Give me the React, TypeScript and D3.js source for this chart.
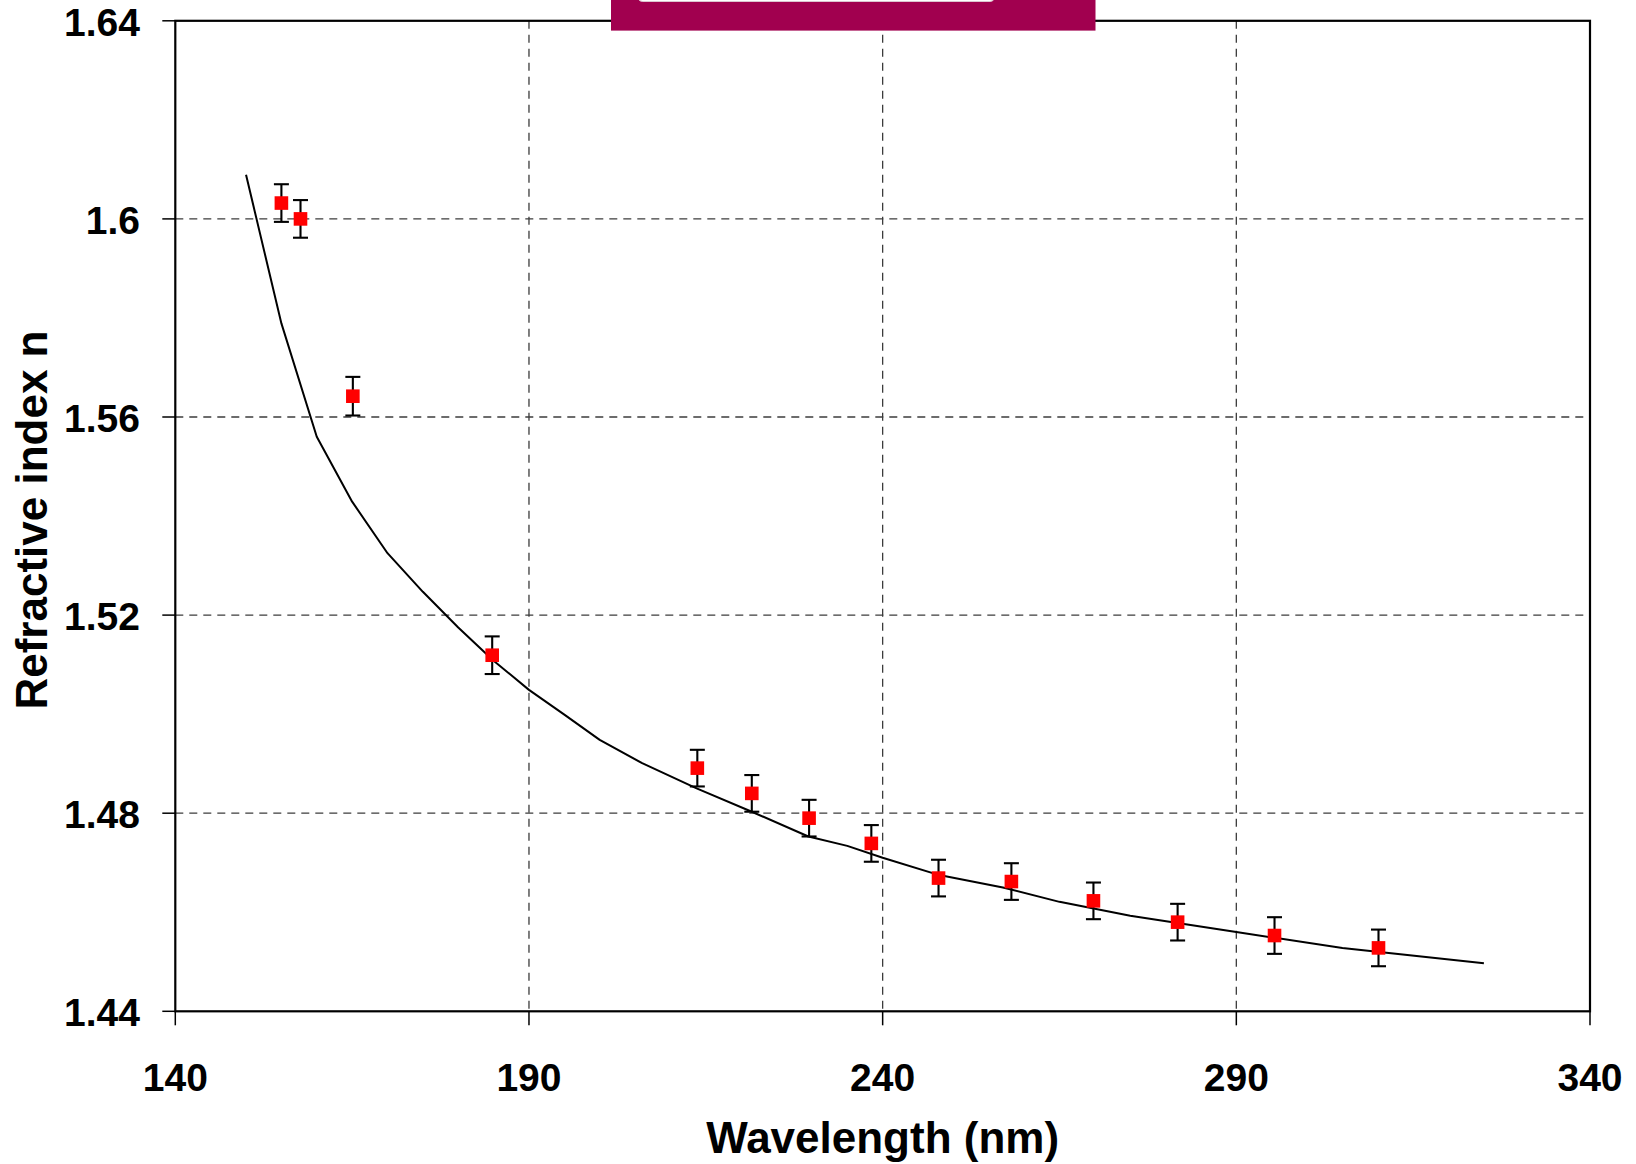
import React from "react";
import * as d3 from "d3";

// Measured refractive index with uncertainty
const wavelengths = [155.0, 157.7, 165.1, 184.8, 213.8, 221.5, 229.6, 238.4, 247.9, 258.2, 269.8, 281.7, 295.4, 310.1];
const indices = [1.6032, 1.6000, 1.5642, 1.5119, 1.4891, 1.4840, 1.4790, 1.4739, 1.4669, 1.4662, 1.4623, 1.4580, 1.4553, 1.4528];
const errors = [0.0038, 0.0038, 0.0039, 0.0038, 0.0037, 0.0037, 0.0037, 0.0037, 0.0037, 0.0037, 0.0037, 0.0037, 0.0037, 0.0037];

// Dispersion fit curve
const fitWavelengths = [150, 155, 160, 165, 170, 175, 180, 185, 190, 195, 200, 206, 213.7, 221.5, 229.5, 235, 240, 248, 257, 265, 275, 290, 305, 325];
const fitIndices = [1.6089, 1.5789, 1.5560, 1.5429, 1.5325, 1.5247, 1.5175, 1.5108, 1.5049, 1.4999, 1.4948, 1.4901, 1.4850, 1.4803, 1.4753, 1.4734, 1.4710, 1.4675, 1.4650, 1.4621, 1.4593, 1.4560, 1.4528, 1.4497];

const xTicks = [140, 190, 240, 290, 340];
const yTicks = [1.44, 1.48, 1.52, 1.56, 1.6, 1.64];

const W = 1636;
const H = 1164;
const left = 175.3;
const right = 1590;
const top = 20.8;
const bottom = 1011.3;

export default function App() {
  const x = d3.scaleLinear().domain([140, 340]).range([left, right]);
  const y = d3.scaleLinear().domain([1.44, 1.64]).range([bottom, top]);

  const fitLine = d3
    .line<number>()
    .x((_, i) => x(fitWavelengths[i]))
    .y((v) => y(v))(fitIndices) as string;

  const font = "'Liberation Sans', Arial, sans-serif";

  return (
    <svg
      width={W}
      height={H}
      viewBox={`0 0 ${W} ${H}`}
      style={{ position: "absolute", left: 0, top: 0, background: "#fff" }}
    >
      <rect x={0} y={0} width={W} height={H} fill="#fff" />

      {/* grid */}
      {yTicks
        .filter((t) => t > 1.44 && t < 1.64)
        .map((t) => (
          <line key={"gy" + t} x1={left} x2={right} y1={y(t)} y2={y(t)} stroke="#3c3c3c" strokeWidth={1.3} strokeDasharray="8,6" />
        ))}
      {xTicks
        .filter((t) => t > 140 && t < 340)
        .map((t) => (
          <line key={"gx" + t} x1={x(t)} x2={x(t)} y1={top} y2={bottom} stroke="#3c3c3c" strokeWidth={1.3} strokeDasharray="8,6" />
        ))}

      {/* frame */}
      <rect x={left} y={top} width={right - left} height={bottom - top} fill="none" stroke="#000" strokeWidth={2.2} />

      {/* ticks */}
      {yTicks.map((t) => (
        <line key={"ty" + t} x1={left - 13} x2={left} y1={y(t)} y2={y(t)} stroke="#000" strokeWidth={1.5} />
      ))}
      {xTicks.map((t) => (
        <line key={"tx" + t} x1={x(t)} x2={x(t)} y1={bottom} y2={bottom + 14} stroke="#000" strokeWidth={1.5} />
      ))}

      {/* tick labels */}
      {yTicks.map((t) => (
        <text key={"ly" + t} x={140} y={y(t) + 15} textAnchor="end" fontFamily={font} fontWeight="bold" fontSize={39} fill="#000">
          {String(t)}
        </text>
      ))}
      {xTicks.map((t) => (
        <text key={"lx" + t} x={x(t)} y={1091} textAnchor="middle" fontFamily={font} fontWeight="bold" fontSize={39} fill="#000">
          {String(t)}
        </text>
      ))}

      {/* axis titles */}
      <text x={(left + right) / 2} y={1153} textAnchor="middle" fontFamily={font} fontWeight="bold" fontSize={44} fill="#000">
        Wavelength (nm)
      </text>
      <text
        transform={`translate(47, ${(top + bottom) / 2 + 4}) rotate(-90)`}
        textAnchor="middle"
        fontFamily={font}
        fontWeight="bold"
        fontSize={44}
        fill="#000"
      >
        Refractive index n
      </text>

      {/* fit curve */}
      <path d={fitLine} fill="none" stroke="#000" strokeWidth={2} strokeLinejoin="round" />

      {/* data with error bars */}
      {wavelengths.map((w, i) => {
        const cx = x(w);
        const cy = y(indices[i]);
        const y1 = y(indices[i] + errors[i]);
        const y2 = y(indices[i] - errors[i]);
        return (
          <g key={"p" + i}>
            <line x1={cx} x2={cx} y1={y1} y2={y2} stroke="#000" strokeWidth={2.1} />
            <line x1={cx - 7.5} x2={cx + 7.5} y1={y1} y2={y1} stroke="#000" strokeWidth={2.1} />
            <line x1={cx - 7.5} x2={cx + 7.5} y1={y2} y2={y2} stroke="#000" strokeWidth={2.1} />
            <rect x={cx - 6.8} y={cy - 6.8} width={13.6} height={13.6} fill="#ff0000" />
          </g>
        );
      })}

      {/* header banner */}
      <rect x={611} y={0} width={484.5} height={30.6} fill="#a1004f" />
      <rect x={638.5} y={-20} width={355.5} height={21.5} rx={4} fill="#fff" stroke="#dcc6d0" strokeWidth={1} />
    </svg>
  );
}
